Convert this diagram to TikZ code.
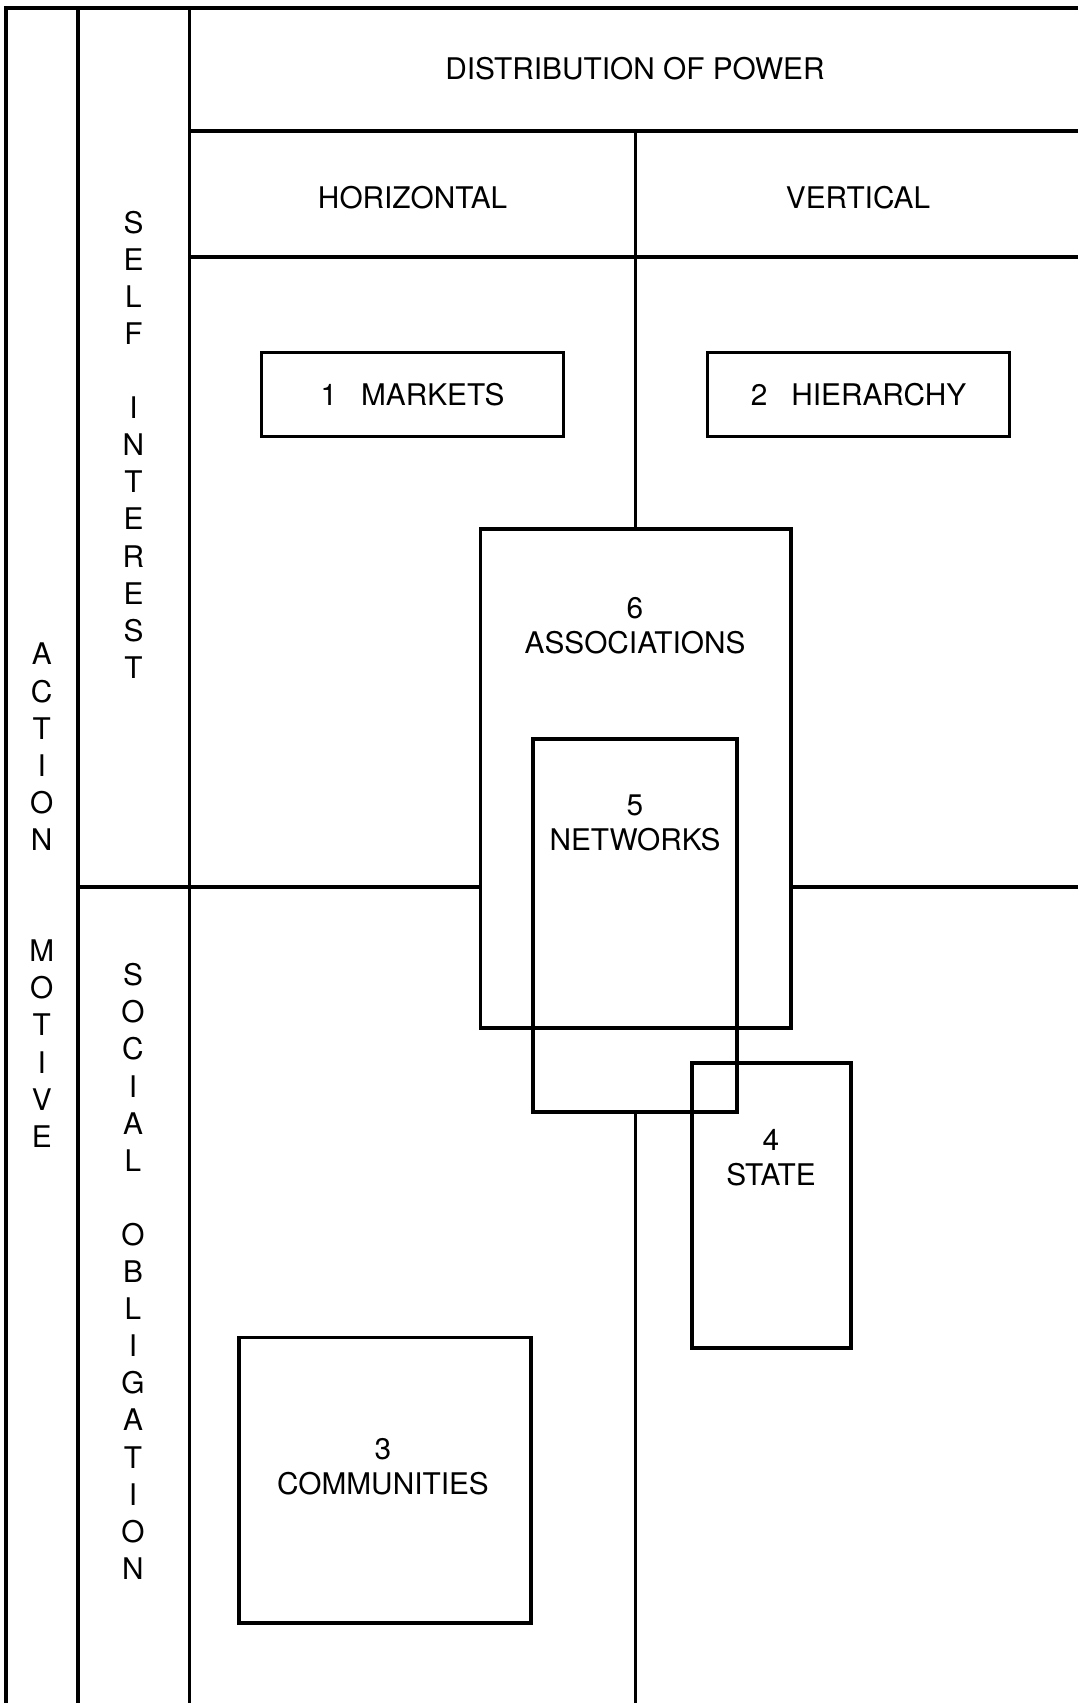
\documentclass[tikz,border=0pt]{standalone}
\usepackage{fontspec}
\setmainfont{TeX Gyre Heros}
\begin{document}
\begin{tikzpicture}[x=0.5pt,y=-0.5pt,
  rule/.style={line width=1.65pt,line cap=rect},
  box/.style={draw,line width=1.65pt,inner sep=0pt,outer sep=0pt},
  lbl/.style={inner sep=0pt,align=center,font=\fontsize{14.9}{17.5}\selectfont},
  vlbl/.style={inner sep=0pt,align=center,font=\fontsize{14.9}{18.55}\selectfont}]
\path[use as bounding box] (0,0) rectangle (1077,1703);
% grid coordinates
\coordinate (tl) at (6,8);
\coordinate (bl) at (6,1710);
\coordinate (tr) at (1085,8);
% boxes
\node[box,minimum width=151pt,minimum height=42pt] (markets) at (412.5,394.7) {};
\node[box,minimum width=151pt,minimum height=42pt] (hierarchy) at (858.5,394.7) {};
\node[box,minimum width=155.25pt,minimum height=249.5pt] (assoc) at (635.75,778.5) {};
\node[box,minimum width=102pt,minimum height=186.5pt] (networks) at (635,925.5) {};
\node[box,minimum width=79.5pt,minimum height=142.5pt] (state) at (771.5,1205.5) {};
\node[box,minimum width=146pt,minimum height=142.75pt] (communities) at (385,1480.25) {};
% frame lines
\draw[rule] (bl) -- (tl) -- (tr);
\coordinate (v2t) at (78,8);   \coordinate (v2b) at (78,1710);
\coordinate (v3t) at (189.5,8); \coordinate (v3b) at (189.5,1710);
\draw[rule] (v2t) -- (v2b);
\draw[rule] (v3t) -- (v3b);
\coordinate (h1l) at (189.5,131); \coordinate (h1r) at (1085,131);
\coordinate (h2l) at (189.5,257); \coordinate (h2r) at (1085,257);
\draw[rule] (h1l) -- (h1r);
\draw[rule] (h2l) -- (h2r);
\coordinate (mvt) at (635.5,131);
\coordinate (mvb) at (635.5,1710);
\draw[rule] (mvt) -- (assoc.north -| mvt);
\draw[rule] (networks.south -| mvt) -- (mvb);
\coordinate (mhl) at (78,887);
\coordinate (mhr) at (1085,887);
\draw[rule] (mhl) -- (assoc.west |- mhl);
\draw[rule] (assoc.east |- mhr) -- (mhr);
% header texts
\node[lbl] (dist) at (635,69) {DISTRIBUTION OF POWER};
\node[lbl] (horiz) at (412.6,197.5) {HORIZONTAL};
\node[lbl] (vert) at (858,197.5) {VERTICAL};
% box labels
\node[lbl] (marketslbl) at (markets.center) {1\hspace{12pt}MARKETS};
\node[lbl] (hierarchylbl) at (hierarchy.center) {2\hspace{12pt}HIERARCHY};
\node[lbl] (assoclbl) at (635,625.4) {6\\ASSOCIATIONS};
\node[lbl] (networkslbl) at (635,823) {5\\NETWORKS};
\node[lbl] (statelbl) at (771,1158) {4\\STATE};
\node[lbl] (communitieslbl) at (383,1466.3) {3\\COMMUNITIES};
% vertical texts
\node[vlbl] (selfint) at (133.5,444.6) {S\\E\\L\\F\\[18.55pt]I\\N\\T\\E\\R\\E\\S\\T};
\node[vlbl] (socobl) at (133,1271.4) {S\\O\\C\\I\\A\\L\\[18.55pt]O\\B\\L\\I\\G\\A\\T\\I\\O\\N};
\node[vlbl] (actmot) at (41.7,895.2) {A\\C\\T\\I\\O\\N\\[37.1pt]M\\O\\T\\I\\V\\E};
\end{tikzpicture}
\end{document}
